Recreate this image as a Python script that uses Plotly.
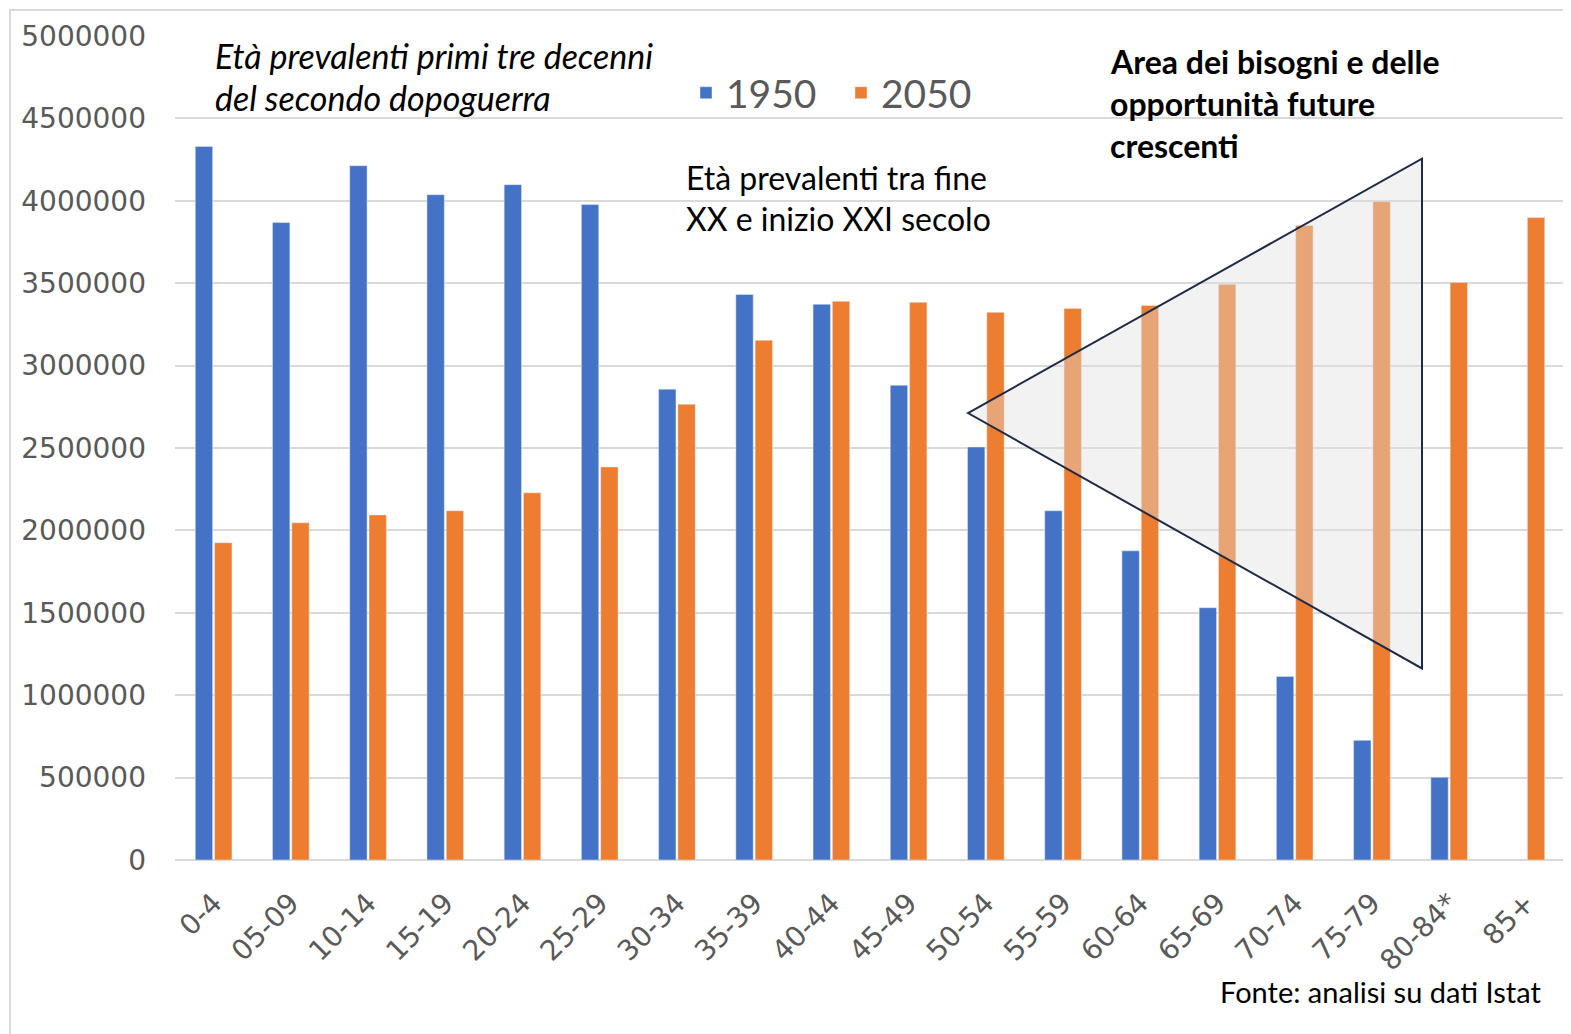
import plotly.graph_objects as go

categories = ["0-4", "05-09", "10-14", "15-19", "20-24", "25-29", "30-34", "35-39",
              "40-44", "45-49", "50-54", "55-59", "60-64", "65-69", "70-74", "75-79",
              "80-84*", "85+"]
pop_1950 = [4330000, 3868000, 4213000, 4037000, 4098000, 3977000, 2857000, 3432000,
            3372000, 2881000, 2506000, 2119000, 1876000, 1531000, 1114000, 726000,
            502000, None]
pop_2050 = [1925000, 2046000, 2094000, 2119000, 2228000, 2385000, 2766000, 3154000,
            3390000, 3384000, 3323000, 3347000, 3365000, 3493000, 3850000, 3995000,
            3505000, 3898000]
y_ticks = [0, 500000, 1000000, 1500000, 2000000, 2500000, 3000000, 3500000,
           4000000, 4500000, 5000000]

W, H = 1571, 1034
OFF = 8  # page offset of the figure
PLOT_L, PLOT_T, PW, PH = 175, 34, 1390, 826
L = PLOT_L - OFF
T = PLOT_T - OFF
R = W - L - PW
B = H - T - PH


def px(x):
    return (x - PLOT_L) / PW


def py(y):
    return (PLOT_T + PH - y) / PH


fig = go.Figure()
fig.add_trace(go.Bar(name="1950", x=categories, y=pop_1950, marker_color="#4472C4"))
fig.add_trace(go.Bar(name="2050", x=categories, y=pop_2050, marker_color="#ED7D31"))

tick_font = dict(family="DejaVu Sans", size=28, color="#595959")

fig.update_layout(
    width=W, height=H,
    margin=dict(l=L, r=R, t=T, b=B),
    paper_bgcolor="white", plot_bgcolor="white",
    barmode="group", bargap=0.5, bargroupgap=0.1,
    showlegend=True,
    legend=dict(orientation="h", x=px(686), y=py(91), xanchor="left", yanchor="middle",
                font=dict(family="Lato", size=39, color="#595959"),
                bgcolor="rgba(0,0,0,0)", itemwidth=30, entrywidth=110),
    xaxis=dict(type="category", tickangle=-45, tickfont=tick_font, showgrid=False,
               showline=False, ticks="", ticklabelstandoff=20),
    yaxis=dict(range=[0, 5000000], tickvals=y_ticks, ticktext=[str(v) for v in y_ticks],
               tickfont=tick_font, showgrid=True, gridcolor="#D9D9D9", gridwidth=1.5,
               zeroline=True, zerolinecolor="#D9D9D9", zerolinewidth=1.5,
               showline=False, ticklabelstandoff=28),
)

# frame around the chart
fig.add_shape(type="rect", xref="paper", yref="paper",
              x0=px(10), y0=py(1045), x1=px(1585), y1=py(8),
              line=dict(color="#D9D9D9", width=2), fillcolor="rgba(0,0,0,0)", layer="below")

# triangle highlighting the growing area
fig.add_shape(type="path", xref="paper", yref="paper",
              path=f"M {px(968)},{py(412)} L {px(1422)},{py(157)} L {px(1422)},{py(668)} Z",
              line=dict(color="#1F2A44", width=2),
              fillcolor="rgba(222,222,222,0.4)", layer="above")

ann_font = "Lato"
fig.add_annotation(xref="paper", yref="paper", x=px(213), y=py(54),
                   xanchor="left", yanchor="middle", showarrow=False,
                   text="<i>Età prevalenti primi tre decenni</i>",
                   font=dict(family=ann_font, size=34, color="black"))
fig.add_annotation(xref="paper", yref="paper", x=px(213), y=py(96),
                   xanchor="left", yanchor="middle", showarrow=False,
                   text="<i>del secondo dopoguerra</i>",
                   font=dict(family=ann_font, size=34, color="black"))
fig.add_annotation(xref="paper", yref="paper", x=px(684), y=py(176),
                   xanchor="left", yanchor="middle", showarrow=False,
                   text="Età prevalenti tra fine",
                   font=dict(family=ann_font, size=32, color="black"))
fig.add_annotation(xref="paper", yref="paper", x=px(684), y=py(217),
                   xanchor="left", yanchor="middle", showarrow=False,
                   text="XX e inizio XXI secolo",
                   font=dict(family=ann_font, size=32, color="black"))
for i, line in enumerate(["Area dei bisogni e delle", "opportunità future", "crescenti"]):
    fig.add_annotation(xref="paper", yref="paper", x=px(1108), y=py(60 + 42 * i),
                       xanchor="left", yanchor="middle", showarrow=False,
                       text=f"<b>{line}</b>",
                       font=dict(family=ann_font, size=32, color="black"))
fig.add_annotation(xref="paper", yref="paper", x=px(1543), y=py(992),
                   xanchor="right", yanchor="middle", showarrow=False,
                   text="Fonte: analisi su dati Istat",
                   font=dict(family=ann_font, size=29, color="black"))

fig.write_html("out.html")
